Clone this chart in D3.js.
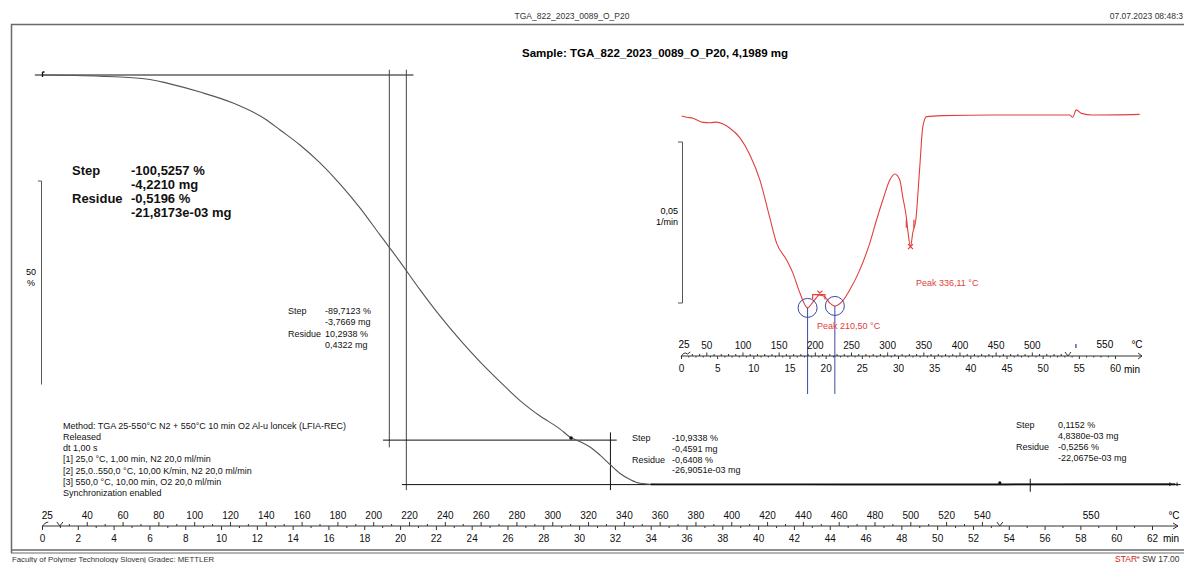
<!DOCTYPE html>
<html>
<head>
<meta charset="utf-8">
<script src="https://cdn.jsdelivr.net/npm/d3@7"></script>
<style>
  body { margin: 0; background: #fff; }
  svg { display: block; font-family: "Liberation Sans", Arial, sans-serif; }
</style>
</head>
<body>
<svg id="chart" width="1184" height="563"></svg>
<script>
// ---- TGA curve: time (min) vs. relative mass (%) ----
const tgaTime = [0, 3.24, 6.03, 6.98, 8.83, 10.67, 12.57, 13.3, 14.41, 15.53, 16.65, 17.77, 18.88, 20.0, 21.12,
  22.23, 23.35, 24.47, 25.59, 26.7, 27.82, 28.94, 29.5, 30.06, 30.61, 31.17, 31.73, 32.29, 32.85, 33.4,
  34.5, 40, 45, 50, 53.5, 55.2, 58, 63.3];
const tgaMass = [100, 99.7, 98.9, 98.0, 95.8, 93.1, 88.9, 86.5, 82.8, 78.4, 73.2, 67.3, 60.7, 54.1, 47.2,
  40.8, 34.9, 29.5, 24.6, 20.0, 16.2, 13.0, 11.0, 9.9, 8.6, 6.6, 4.3, 2.1, 0.6, -0.3,
  -0.6, -0.62, -0.64, -0.64, -0.64, -0.55, -0.53, -0.52];

// ---- DTG curve (first derivative): time (min) vs. rate (1/min) ----
const dtgTime = [0.10, 0.79, 1.66, 3.04, 4.01, 4.93, 5.80, 6.77, 8.15, 9.53, 10.91, 12.29, 13.22, 14.60,
  15.47, 16.44, 17.50, 18.23, 19.20, 19.89, 20.58, 21.27, 22.20, 23.34, 24.72, 26.10, 27.03, 27.90,
  28.87, 29.56, 30.25, 30.66, 31.17, 31.35, 31.73, 32.04, 32.46, 33.01, 33.43, 33.94, 36.19, 43.09,
  53.73, 54.14, 54.65, 55.35, 56.91, 63.4];
const dtgRate = [-0.0003, -0.0007, -0.0010, -0.0023, -0.0024, -0.0022, -0.0028, -0.0041, -0.0071, -0.0124,
  -0.0202, -0.0320, -0.0398, -0.0450, -0.0491, -0.0553, -0.0599, -0.0581, -0.0559, -0.0565, -0.0584,
  -0.0593, -0.0581, -0.0543, -0.0481, -0.0398, -0.0326, -0.0264, -0.0202, -0.0183, -0.0202, -0.0255,
  -0.0320, -0.0357, -0.0409, -0.0366, -0.0326, -0.0161, -0.0037, -0.0005, -0.0002, 0,
  0, -0.0007, 0.0016, 0.0005, 0, 0.0002];

// ---- axis tick labels ----
const mainTimeTicks = [0, 2, 4, 6, 8, 10, 12, 14, 16, 18, 20, 22, 24, 26, 28, 30, 32, 34, 36, 38, 40,
  42, 44, 46, 48, 50, 52, 54, 56, 58, 60, 62];
const mainTempTicks = [40, 60, 80, 100, 120, 140, 160, 180, 200, 220, 240, 260, 280, 300, 320, 340,
  360, 380, 400, 420, 440, 460, 480, 500, 520, 540];
const insetTimeTicks = [0, 5, 10, 15, 20, 25, 30, 35, 40, 45, 50, 55, 60];
const insetTempTicks = [50, 100, 150, 200, 250, 300, 350, 400, 450, 500];

// ---- evaluation results ----
const stepAll = { step: ["-100,5257 %", "-4,2210 mg"], residue: ["-0,5196 %", "-21,8173e-03 mg"] };
const step1 = { step: ["-89,7123 %", "-3,7669 mg"], residue: ["10,2938 %", "0,4322 mg"] };
const step2 = { step: ["-10,9338 %", "-0,4591 mg"], residue: ["-0,6408 %", "-26,9051e-03 mg"] };
const step3 = { step: ["0,1152 %", "4,8380e-03 mg"], residue: ["-0,5256 %", "-22,0675e-03 mg"] };
const peakTemps = ["210,50", "336,11"];
const methodLines = [
  "Method: TGA 25-550°C N2 + 550°C 10 min O2 Al-u loncek (LFIA-REC)",
  "Released",
  "dt 1,00 s",
  "[1] 25,0 °C, 1,00 min, N2 20,0 ml/min",
  "[2] 25,0..550,0 °C, 10,00 K/min, N2 20,0 ml/min",
  "[3] 550,0 °C, 10,00 min, O2 20,0 ml/min",
  "Synchronization enabled"
];

// heating program: 1 min isotherm at 25 °C, then 10 K/min
const tempToTime = T => 1 + (T - 25) / 10;

const svg = d3.select("#chart");
const W = 1184, H = 563;
svg.append("rect").attr("width", W).attr("height", H).attr("fill", "#fff");

// ---- scales ----
const x = d3.scaleLinear().domain([0, 62]).range([42, 1152]);
const y = d3.scaleLinear().domain([0, 100]).range([482, 75]);
const xi = d3.scaleLinear().domain([0, 60]).range([681, 1115]);
const yi = d3.scaleLinear().domain([-0.05, 0]).range([276, 115]);

// ---- page frame ----
const frame = svg.append("g").attr("stroke", "#6a6a6a").attr("fill", "none");
frame.append("line").attr("x1", 11).attr("x2", W).attr("y1", 24.5).attr("y2", 24.5).attr("stroke-width", 1.5);
frame.append("line").attr("x1", 11.5).attr("x2", 11.5).attr("y1", 24).attr("y2", 553).attr("stroke-width", 1.5);
frame.append("line").attr("x1", 11).attr("x2", W).attr("y1", 550).attr("y2", 550).attr("stroke-width", 1.5);
frame.append("line").attr("x1", 11).attr("x2", W).attr("y1", 553).attr("y2", 553).attr("stroke-width", 1);

svg.append("text").attr("x", 572).attr("y", 19).attr("text-anchor", "middle")
  .attr("font-size", 8.5).attr("fill", "#333").text("TGA_822_2023_0089_O_P20");
svg.append("text").attr("x", 1183).attr("y", 19).attr("text-anchor", "end")
  .attr("font-size", 8.5).attr("fill", "#333").text("07.07.2023 08:48:3");
svg.append("text").attr("x", 12).attr("y", 562)
  .attr("font-size", 7.8).attr("fill", "#333").text("Faculty of Polymer Technology Slovenj Gradec: METTLER");
const star = svg.append("text").attr("x", 1115).attr("y", 562).attr("font-size", 8.5).attr("fill", "#333");
star.append("tspan").attr("fill", "#d02020").text("STAR");
star.append("tspan").attr("font-size", 5).attr("dy", -3).attr("fill", "#d02020").text("e");
star.append("tspan").attr("dy", 3).text(" SW 17.00");

svg.append("text").attr("x", 655).attr("y", 57).attr("text-anchor", "middle")
  .attr("font-size", 11.5).attr("font-weight", "bold").text("Sample: TGA_822_2023_0089_O_P20, 4,1989 mg");

// ---- main y scale bar (50 %) ----
const barTop = 181;
const barLen = y(0) - y(50);
svg.append("path").attr("fill", "none").attr("stroke", "#555").attr("stroke-width", 1)
  .attr("d", `M38,${barTop}H41.5V${barTop + barLen}`);
svg.append("text").attr("x", 31).attr("y", 275).attr("text-anchor", "middle").attr("font-size", 9).text("50");
svg.append("text").attr("x", 31).attr("y", 286).attr("text-anchor", "middle").attr("font-size", 9).text("%");

// ---- step evaluation construction lines ----
const ann = svg.append("g").attr("stroke", "#111").attr("stroke-width", 1).attr("fill", "none");
const hline = (v, t0, t1) => ann.append("line").attr("x1", x(t0)).attr("x2", x(t1)).attr("y1", y(v)).attr("y2", y(v));
const vline = (t, v0, v1) => ann.append("line").attr("x1", x(t)).attr("x2", x(t)).attr("y1", y(v0)).attr("y2", y(v1));
hline(100, -0.4, 20.75);
vline(19.4, 101.3, 8.5).attr("stroke", "#444");
vline(20.35, 101.3, -2).attr("stroke", "#444");
hline(10.29, 19.05, 32.1);
vline(31.75, 12.2, -2);
hline(-0.64, 20.1, 63.6).attr("stroke-width", 1);

// ---- TGA curve ----
const tgaLine = d3.line().x((d, i) => x(tgaTime[i])).y((d, i) => y(tgaMass[i])).curve(d3.curveMonotoneX);
svg.append("path").datum(tgaMass).attr("d", tgaLine)
  .attr("fill", "none").attr("stroke", "#555").attr("stroke-width", 1.1);
// thick overlapping flat section
svg.append("line").attr("x1", x(34.0)).attr("x2", x(63.3)).attr("y1", y(-0.6)).attr("y2", y(-0.6))
  .attr("stroke", "#111").attr("stroke-width", 1.7);

// marker points on curve
svg.append("path").attr("stroke", "#111").attr("stroke-width", 1.3).attr("fill", "none")
  .attr("d", `M${x(0) + 0.5},${y(100) - 3}V${y(100) + 2}M${x(0) + 0.5},${y(100) - 3}h2`);
svg.append("circle").attr("cx", x(29.55)).attr("cy", y(10.8)).attr("r", 1.8).attr("fill", "#111");
svg.append("circle").attr("cx", x(53.5)).attr("cy", y(-0.2)).attr("r", 1.6).attr("fill", "#111");
ann.append("line").attr("x1", x(55.2)).attr("x2", x(55.2)).attr("y1", y(0.8)).attr("y2", y(-2.4));
svg.append("path").attr("stroke", "#111").attr("stroke-width", 1).attr("fill", "none")
  .attr("d", `M${x(63.0)},${y(-0.1)}V${y(-1.0)}M${x(63.4)},${y(-0.1)}V${y(-1.0)}`);

// ---- evaluation text blocks ----
function stepBlock(d, x0, xv, y0, dy, size, bold) {
  const g = svg.append("g").attr("font-size", size).attr("font-weight", bold ? "bold" : "normal").attr("fill", "#111");
  g.append("text").attr("x", x0).attr("y", y0).text("Step");
  g.append("text").attr("x", xv).attr("y", y0).text(d.step[0]);
  g.append("text").attr("x", xv).attr("y", y0 + dy).text(d.step[1]);
  g.append("text").attr("x", x0).attr("y", y0 + 2 * dy).text("Residue");
  g.append("text").attr("x", xv).attr("y", y0 + 2 * dy).text(d.residue[0]);
  g.append("text").attr("x", xv).attr("y", y0 + 3 * dy).text(d.residue[1]);
}
stepBlock(stepAll, 72, 131, 175, 14, 13, true);
stepBlock(step1, 288, 325, 314, 11.3, 9, false);
stepBlock(step2, 632, 672, 441, 10.8, 9, false);
stepBlock(step3, 1016, 1058, 428, 11, 9, false);

// method description
const mg = svg.append("g").attr("font-size", 9).attr("fill", "#111");
methodLines.forEach((s, i) => mg.append("text").attr("x", 63).attr("y", 428.5 + i * 11.3).text(s));

// ---- main bottom axis: temperature above, time below ----
const axisY = 526;
const mainAxis = svg.append("g").attr("transform", `translate(0,${axisY})`);
mainAxis.append("line").attr("x1", x(0)).attr("x2", 1178).attr("stroke", "#333");
mainAxis.append("path").attr("d", "M1173,-3L1178,0L1173,3").attr("fill", "none").attr("stroke", "#333");

const timeAxis = d3.axisBottom(x).tickValues(mainTimeTicks).tickSize(4).tickPadding(5).tickSizeOuter(0)
  .tickFormat(d3.format("d"));
const tA = mainAxis.append("g").call(timeAxis);
const minorTime = d3.axisBottom(x).tickValues(d3.range(1, 63, 2)).tickSize(2).tickFormat("").tickSizeOuter(0);
const tB = mainAxis.append("g").call(minorTime);

const xTemp = T => x(tempToTime(T));
const tempScale = d3.scaleLinear().domain([25, 550]).range([xTemp(25), xTemp(550)]);
const tempAxis = d3.axisTop(tempScale).tickValues(mainTempTicks).tickSize(4).tickPadding(3).tickSizeOuter(0)
  .tickFormat(d3.format("d"));
const tC = mainAxis.append("g").call(tempAxis);
const minorTemp = d3.axisTop(tempScale).tickValues(d3.range(30, 550, 10).filter(v => v % 20 !== 0))
  .tickSize(2).tickFormat("").tickSizeOuter(0);
const tD = mainAxis.append("g").call(minorTemp);
[tA, tB, tC, tD].forEach(g => {
  g.select(".domain").remove();
  g.selectAll("line").attr("stroke", "#333");
  g.selectAll("text").attr("font-size", 10).attr("fill", "#111").attr("font-family", "Liberation Sans, Arial, sans-serif");
});
mainAxis.append("text").attr("x", x(0.3)).attr("y", -7).attr("text-anchor", "middle").attr("font-size", 10).text("25");
mainAxis.append("text").attr("x", x(58.6)).attr("y", -7).attr("text-anchor", "middle").attr("font-size", 10).text("550");
mainAxis.append("text").attr("x", 1174).attr("y", -7).attr("text-anchor", "middle").attr("font-size", 10).text("°C");
mainAxis.append("text").attr("x", 1163).attr("y", 16).attr("font-size", 10).text("min");
// segment break marks
mainAxis.append("path").attr("fill", "none").attr("stroke", "#333")
  .attr("d", `M${x(0)},1Q${x(0.15)},-4 ${x(0.35)},-4M${x(1) - 3},-4L${x(1)},0L${x(1) + 3},-4M${x(53.5) - 3},-4L${x(53.5)},0L${x(53.5) + 3},-4`);

// ---- inset: DTG ----
const dtgColor = "#e0403c";
const ins = svg.append("g");
// scale bar 0,05 1/min
const ibTop = 142;
const ibLen = yi(-0.05) - yi(0) ;
ins.append("path").attr("fill", "none").attr("stroke", "#555")
  .attr("d", `M678,${ibTop}H682.5V${ibTop + ibLen}H678`);
ins.append("text").attr("x", 678).attr("y", 214).attr("text-anchor", "end").attr("font-size", 9).text("0,05");
ins.append("text").attr("x", 678).attr("y", 225).attr("text-anchor", "end").attr("font-size", 9).text("1/min");

const dtgLine = d3.line().x((d, i) => xi(dtgTime[i])).y((d, i) => yi(dtgRate[i])).curve(d3.curveMonotoneX);
ins.append("path").datum(dtgRate).attr("d", dtgLine).attr("fill", "none")
  .attr("stroke", dtgColor).attr("stroke-width", 1.1);

// peak markers
const blue = "#3a4aa0";
[[17.5, -0.0599], [21.27, -0.0593]].forEach(([t, v]) => {
  ins.append("circle").attr("cx", xi(t)).attr("cy", yi(v)).attr("r", 9.5).attr("fill", "none").attr("stroke", blue);
  ins.append("line").attr("x1", xi(t)).attr("x2", xi(t)).attr("y1", yi(v)).attr("y2", 394).attr("stroke", blue);
});
const cross = (cx, cy) => `M${cx - 2.5},${cy - 2.5}L${cx + 2.5},${cy + 2.5}M${cx - 2.5},${cy + 2.5}L${cx + 2.5},${cy - 2.5}`;
const pk = ins.append("g").attr("stroke", dtgColor).attr("fill", "none").attr("stroke-width", 1.2);
pk.append("path").attr("d",
  `M${xi(18.2)},${yi(-0.0573)}V${yi(-0.0558)}H${xi(19.9)}V${yi(-0.0573)}` + cross(xi(19.2), yi(-0.0553)));
pk.append("path").attr("d",
  `M${xi(31.15)},${yi(-0.0350)}V${yi(-0.0325)}M${xi(32.2)},${yi(-0.0350)}V${yi(-0.0325)}` + cross(xi(31.73), yi(-0.0409)));
ins.append("text").attr("x", 916).attr("y", 286).attr("font-size", 9).attr("fill", dtgColor)
  .text(`Peak   ${peakTemps[1]} °C`);
ins.append("text").attr("x", 817).attr("y", 329).attr("font-size", 9).attr("fill", dtgColor)
  .text(`Peak   ${peakTemps[0]} °C`);

// inset axis
const iy = 356;
const insAxis = ins.append("g").attr("transform", `translate(0,${iy})`);
insAxis.append("line").attr("x1", xi(0)).attr("x2", 1142).attr("stroke", "#333");
insAxis.append("path").attr("d", "M1138,-3L1142,0L1138,3").attr("fill", "none").attr("stroke", "#333");
const iT = insAxis.append("g").call(d3.axisBottom(xi).tickValues(insetTimeTicks).tickSize(3).tickPadding(6)
  .tickSizeOuter(0).tickFormat(d3.format("d")));
const iT2 = insAxis.append("g").call(d3.axisBottom(xi).tickValues(d3.range(1, 61).filter(v => v % 5 !== 0))
  .tickSize(1.5).tickFormat("").tickSizeOuter(0));
const xiTemp = T => xi(tempToTime(T));
const iTempScale = d3.scaleLinear().domain([25, 550]).range([xiTemp(25), xiTemp(550)]);
const iC = insAxis.append("g").call(d3.axisTop(iTempScale).tickValues(insetTempTicks).tickSize(3.5).tickPadding(4)
  .tickSizeOuter(0).tickFormat(d3.format("d")));
const iC2 = insAxis.append("g").call(d3.axisTop(iTempScale).tickValues(d3.range(30, 550, 10).filter(v => v % 50 !== 0))
  .tickSize(2).tickFormat("").tickSizeOuter(0));
[iT, iT2, iC, iC2].forEach(g => {
  g.select(".domain").remove();
  g.selectAll("line").attr("stroke", "#333");
  g.selectAll("text").attr("font-size", 10).attr("fill", "#111").attr("font-family", "Liberation Sans, Arial, sans-serif");
});
insAxis.append("text").attr("x", 684).attr("y", -8).attr("text-anchor", "middle").attr("font-size", 10).text("25");
insAxis.append("text").attr("x", xi(58.6)).attr("y", -8).attr("text-anchor", "middle").attr("font-size", 10).text("550");
insAxis.append("text").attr("x", 1137).attr("y", -8).attr("text-anchor", "middle").attr("font-size", 10).text("°C");
insAxis.append("text").attr("x", 1124).attr("y", 17).attr("font-size", 10).text("min");
insAxis.append("path").attr("fill", "none").attr("stroke", "#333")
  .attr("d", `M${xi(0)},1Q${xi(0.4)},-5 ${xi(0.9)},-2L${xi(1.3)},-4M${xi(53.5) - 3},-4L${xi(53.5)},0L${xi(53.5) + 3},-4`);
insAxis.append("line").attr("x1", xi(54.6)).attr("x2", xi(54.6)).attr("y1", -12).attr("y2", -8)
  .attr("stroke", blue).attr("stroke-width", 1.3);
</script>
</body>
</html>
